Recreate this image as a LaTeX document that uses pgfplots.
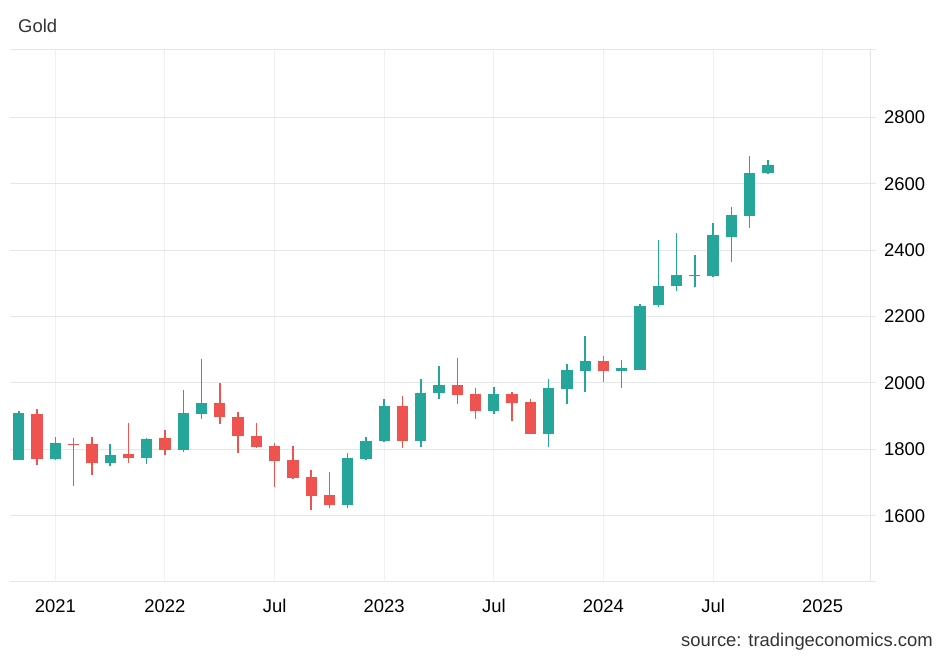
\documentclass[border=0pt]{standalone}
\usepackage{fontspec}
\setmainfont{Liberation Sans}
\usepackage{pgfplots}
\pgfplotsset{compat=1.18}
\usepackage{pgfplotstable}
\definecolor{upc}{HTML}{26A69A}
\definecolor{dnc}{HTML}{EF5350}
\definecolor{hgrid}{HTML}{E6E6E6}
\definecolor{vgrid}{HTML}{EDF1F5}
\definecolor{txt}{HTML}{333333}

% month index: Jan 2021 = 0
\pgfplotstableread{
m o h l c
4 1769 1917 1767 1909
6 1770 1836 1769 1818
9 1758 1817 1751 1783
11 1773 1834 1756 1831
13 1797 1978 1792 1910
14 1907 2073 1892 1941
22 1632 1788 1622 1773
23 1770 1838 1768 1826
24 1824 1952 1822 1932
26 1824 2012 1808 1970
27 1971 2052 1951 1993
30 1917 1989 1905 1966
33 1847 2012 1808 1985
34 1982 2056 1936 2039
35 2036 2141 1974 2066
37 2036 2068 1986 2045
38 2040 2237 2038 2232
39 2236 2432 2229 2292
40 2291 2453 2277 2326
41 2323 2387 2289 2327
42 2324 2483 2320 2446
43 2441 2532 2364 2505
44 2502 2685 2468 2634
45 2632 2673 2631 2657
}\upTable

\pgfplotstableread{
m o h l c
5 1908 1922 1753 1770
7 1815 1833 1690 1813
8 1815 1837 1723 1758
10 1787 1879 1760 1773
12 1834 1857 1784 1797
15 1941 2001 1876 1896
16 1898 1913 1789 1839
17 1841 1880 1804 1808
18 1810 1819 1686 1766
19 1768 1811 1711 1713
20 1716 1738 1617 1659
21 1662 1731 1622 1632
25 1931 1962 1804 1824
28 1993 2074 1936 1963
29 1966 1985 1892 1917
31 1966 1972 1885 1940
32 1943 1953 1845 1847
36 2066 2082 2004 2036
}\downTable

\begin{document}
\begin{tikzpicture}
\path[use as bounding box] (0,0) rectangle (948bp,-657bp);
\begin{axis}[
  at={(10bp,-581bp)}, anchor=south west,
  scale only axis, width=860bp, height=531.7bp,
  xmin=3.516, xmax=50.59, ymin=1403, ymax=3006,
  axis x line=box, axis y line*=right,
  axis line style={draw=hgrid, line width=1bp, -},
  ytick={1600,1800,...,2800},
  extra y ticks={1403,3006}, extra y tick labels={},
  tick align=outside, major tick length=6bp,
  ytick style={draw=hgrid, line width=1bp},
  xtick={6,12,...,48},
  xticklabels={2021,2022,Jul,2023,Jul,2024,Jul,2025},
  xtick style={draw=none},
  xmajorgrids, ymajorgrids,
  x grid style={draw=vgrid, line width=1bp},
  y grid style={draw=hgrid, line width=1bp},
  /pgf/number format/set thousands separator={},
  /pgf/number format/assume math mode=true,
  ticklabel style={font=\fontsize{18.5}{22}\selectfont, text=black},
  xticklabel style={anchor=base, yshift=-25.7bp, inner sep=0pt},
  yticklabel style={anchor=west, inner sep=0pt, xshift=8bp},
]
% wicks
\addplot[draw=none, mark=none, error bars/.cd, y dir=plus, y explicit, error mark=none,
  error bar style={draw=upc, line width=1.5bp}]
  table[x=m, y=l, y error expr={\thisrow{h}-\thisrow{l}}] {\upTable};
\addplot[draw=none, mark=none, error bars/.cd, y dir=plus, y explicit, error mark=none,
  error bar style={draw=dnc, line width=1.5bp}]
  table[x=m, y=l, y error expr={\thisrow{h}-\thisrow{l}}] {\downTable};
% bodies
\addplot[draw=none, mark=none, error bars/.cd, y dir=plus, y explicit, error mark=none,
  error bar style={draw=upc, line width=11.3bp}]
  table[x=m, y expr={min(\thisrow{o},\thisrow{c})}, y error expr={max(abs(\thisrow{c}-\thisrow{o}),4)}] {\upTable};
\addplot[draw=none, mark=none, error bars/.cd, y dir=plus, y explicit, error mark=none,
  error bar style={draw=dnc, line width=11.3bp}]
  table[x=m, y expr={min(\thisrow{o},\thisrow{c})}, y error expr={max(abs(\thisrow{c}-\thisrow{o}),4)}] {\downTable};
\end{axis}
\node[anchor=base west, text=txt, font=\fontsize{18.5}{22}\selectfont, inner sep=0pt] at (18bp,-32.3bp) {Gold};
\node[anchor=base east, text=txt, font=\fontsize{18.5}{22}\selectfont, inner sep=0pt] at (933bp,-646.7bp) {source: tradingeconomics.com};
\end{tikzpicture}
\end{document}
